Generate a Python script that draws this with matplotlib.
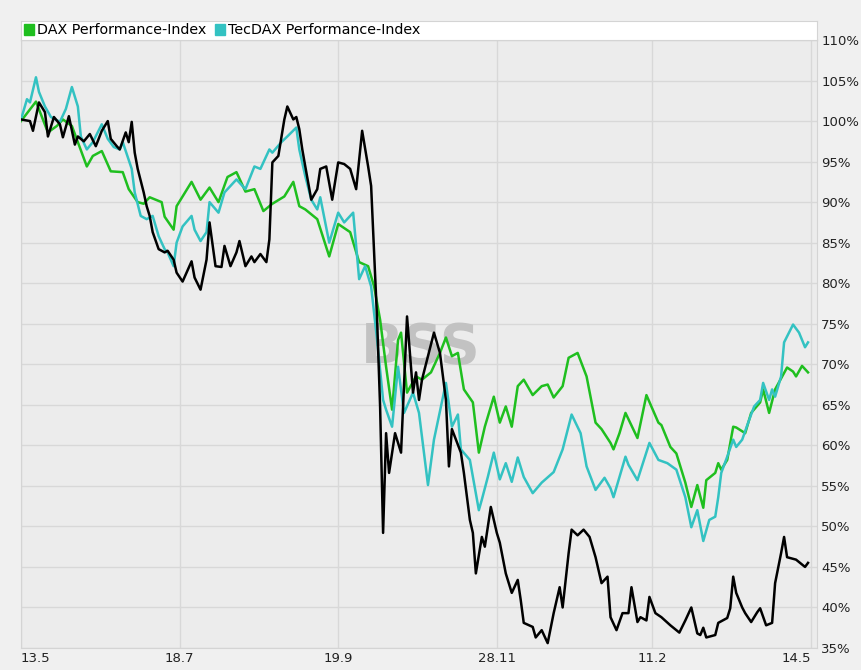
import numpy as np
import matplotlib.pyplot as plt
from matplotlib.patches import Patch

# trading days since 13.5 and index level in % (start = 100%)
dax_days = [0, 5, 9, 12, 14, 17, 22, 24, 27, 30, 34, 36, 39, 41, 43, 47, 48, 51, 52, 57,
            60, 63, 66, 69, 72, 75, 78, 81, 84, 88, 91, 93, 95, 99, 103, 106, 110, 113, 116, 118,
            120, 122, 124, 126, 127, 129, 132, 134, 137, 140, 142, 144, 146, 148, 151, 153, 155, 158, 160, 162,
            164, 166, 168, 171, 174, 176, 178, 181, 183, 186, 189, 192, 194, 197, 198, 200, 202, 206, 209, 213,
            214, 217, 219, 222, 224, 226, 228, 229, 232, 233, 234, 236, 238, 239, 242, 244, 247, 248, 250, 252,
            256, 258, 259, 261, 263]
dax_vals = [100, 102.4, 98.6, 99.4, 100.2, 99.4, 94.4, 95.7, 96.3, 93.8, 93.7, 91.6, 90, 89.8, 90.6, 90, 88.2, 86.6, 89.5, 92.5,
            90.3, 91.8, 90, 93.1, 93.7, 91.3, 91.6, 88.9, 89.8, 90.7, 92.5, 89.5, 89.1, 87.9, 83.3, 87.3, 86.3, 82.6, 82.1, 79.6,
            75.5, 69.7, 64.4, 73, 73.9, 66.5, 68.5, 68.1, 69, 71.4, 73.3, 71, 71.4, 66.9, 65.3, 59.1, 62.3, 66, 62.8, 64.8,
            62.3, 67.3, 68.1, 66.2, 67.3, 67.5, 65.9, 67.3, 70.8, 71.4, 68.5, 62.8, 62, 60.3, 59.5, 61.5, 64, 60.9, 66.2, 62.8,
            62.5, 59.8, 59, 55.4, 52.4, 55.1, 52.3, 55.7, 56.6, 57.8, 57, 58.2, 62.3, 62.2, 61.5, 64, 65.3, 66.9, 64, 66.9,
            69.6, 69.1, 68.5, 69.8, 69]

tec_days = [0, 2, 3, 5, 6, 8, 10, 13, 15, 17, 19, 20, 22, 24, 27, 29, 31, 33, 34, 37,
            38, 40, 42, 44, 46, 48, 49, 51, 52, 54, 57, 58, 60, 62, 63, 66, 68, 72, 75, 78,
            80, 83, 84, 87, 89, 92, 93, 95, 97, 99, 100, 103, 106, 108, 111, 113, 115, 117, 119, 121,
            122, 124, 126, 128, 131, 133, 136, 138, 142, 144, 146, 147, 150, 153, 154, 156, 158, 160, 162, 164,
            166, 168, 171, 174, 178, 181, 184, 187, 189, 192, 195, 197, 198, 202, 203, 206, 210, 213, 216, 219,
            222, 224, 226, 228, 230, 232, 233, 234, 236, 238, 239, 241, 243, 245, 247, 248, 250, 251, 252, 254,
            255, 258, 260, 262, 263]
tec_vals = [100.2, 102.7, 102.3, 105.4, 103.6, 101.8, 100.5, 99.9, 101.5, 104.2, 101.8, 98.1, 96.5, 97.4, 99.6, 97.8, 96.8, 96.5, 97.4, 94.1,
            91.2, 88.3, 87.9, 88.3, 85.8, 84.2, 83.8, 82.1, 85, 87, 88.3, 86.6, 85.2, 86.3, 90, 88.7, 91.2, 92.8, 91.6, 94.4,
            94.1, 96.5, 96.1, 97.4, 98.1, 99.2, 96.5, 93.2, 90.3, 89.1, 90.6, 85, 88.7, 87.5, 88.7, 80.5, 82.1, 79.6, 73, 65.6,
            64.4, 62.3, 69.7, 64, 66.5, 64, 55.1, 60.7, 67.7, 62.3, 63.8, 59.5, 58.2, 52, 53.3, 56.1, 59.1, 55.8, 57.8, 55.5,
            58.5, 56.1, 54.1, 55.4, 56.7, 59.5, 63.8, 61.5, 57.4, 54.5, 56, 54.7, 53.6, 58.6, 57.6, 55.7, 60.3, 58.2, 57.8, 57,
            53.6, 49.9, 52, 48.2, 50.8, 51.2, 53.6, 56.6, 58.6, 60.7, 59.8, 60.7, 62.8, 64.8, 65.6, 67.7, 65.6, 66.9, 66, 68.5,
            72.7, 74.9, 73.9, 72.1, 72.7]

stock_days = [0, 3, 4, 6, 8, 9, 11, 13, 14, 16, 18, 19, 21, 23, 25, 27, 29, 30, 32, 33,
              35, 36, 37, 38, 39, 41, 42, 43, 44, 46, 48, 49, 51, 52, 54, 57, 58, 60, 62, 63,
              65, 67, 68, 70, 72, 73, 75, 77, 78, 80, 82, 83, 84, 86, 88, 89, 91, 92, 93, 94,
              95, 97, 99, 100, 102, 104, 106, 108, 110, 112, 114, 116, 117, 118, 119, 120, 121, 122, 123, 125,
              127, 129, 131, 132, 133, 134, 136, 138, 140, 142, 143, 144, 147, 148, 150, 151, 152, 154, 155, 157,
              159, 160, 162, 163, 164, 166, 167, 168, 171, 172, 174, 176, 178, 180, 181, 183, 184, 186, 188, 190,
              192, 194, 196, 197, 199, 201, 203, 204, 206, 207, 209, 210, 212, 214, 217, 220, 222, 224, 226, 227,
              228, 229, 232, 233, 236, 237, 238, 239, 241, 242, 244, 246, 247, 249, 251, 252, 254, 255, 256, 257,
              259, 262, 263]
stock_vals = [100.2, 100, 98.8, 102.3, 101.1, 98.1, 100.5, 99.6, 98, 100.6, 97.1, 98.1, 97.5, 98.4, 96.9, 98.8, 100, 97.8, 96.9, 96.5,
              98.6, 97.4, 99.9, 96.1, 94.1, 91.2, 89.5, 88.3, 86.3, 84.2, 83.8, 84, 82.9, 81.3, 80.2, 82.7, 80.7, 79.2, 82.9, 87.5,
              82.1, 82, 84.6, 82.1, 83.8, 85.2, 82.1, 83.3, 82.6, 83.6, 82.6, 85.4, 94.9, 95.7, 100.2, 101.8, 100.2, 100.5, 99, 96.5,
              94.4, 90.3, 91.6, 94.1, 94.4, 90.3, 94.9, 94.7, 94.1, 91.6, 98.8, 94.4, 92, 83.8, 75.5, 64.8, 49.2, 61.5, 56.6, 61.5,
              59.1, 75.9, 66.5, 69, 65.6, 68.1, 71, 73.9, 71.4, 65.6, 57.4, 62, 59.1, 56.6, 50.8, 49.2, 44.2, 48.7, 47.5, 52.4,
              49.2, 48, 44.2, 43, 41.8, 43.4, 40.9, 38.1, 37.6, 36.3, 37.2, 35.6, 39.3, 42.5, 40, 46.7, 49.6, 48.9, 49.6, 48.7,
              46.2, 43, 43.8, 38.8, 37.2, 39.3, 39.3, 42.5, 38.2, 38.8, 38.4, 41.3, 39.3, 38.8, 37.8, 36.9, 38.4, 40, 36.8, 36.6,
              37.5, 36.3, 36.6, 38.1, 38.7, 39.9, 43.8, 41.8, 40, 39.3, 38.2, 39.4, 39.9, 37.8, 38.1, 43, 46.7, 48.7, 46.2, 46.1,
              45.9, 45, 45.5]

tick_days = [0, 53, 106, 159, 211, 264]
tick_labels = ['13.5', '18.7', '19.9', '28.11', '11.2', '14.5']
y_ticks = np.arange(35, 111, 5)

plt.rcParams['font.family'] = ['DejaVu Sans']

fig = plt.figure(figsize=(8.61, 6.70), dpi=100, facecolor='#f0f0f0')
ax = fig.add_axes([21/861, 1 - 648/670, 796/861, 608/670])
ax.set_facecolor('#ececec')

green = '#1fbf1f'
cyan = '#33c2c2'

ax.text(0.5025, 0.493, 'BSS', transform=ax.transAxes, ha='center', va='center',
        fontsize=40, fontweight='bold', color='#c2c2c2', zorder=1)

ax.plot(dax_days, dax_vals, color=green, lw=1.8, zorder=3)
ax.plot(tec_days, tec_vals, color=cyan, lw=1.8, zorder=4)
ax.plot(stock_days, stock_vals, color='black', lw=1.8, zorder=5)

ax.set_xlim(0, 266)
ax.set_ylim(35, 110)
ax.set_xticks(tick_days)
ax.set_xticklabels(tick_labels)
for i, lab in enumerate(ax.get_xticklabels()):
    if i == 0:
        lab.set_ha('left')
    elif i == len(tick_labels) - 1:
        lab.set_ha('right')
ax.set_yticks(y_ticks)
ax.set_yticklabels([f'{v}%' for v in y_ticks])
ax.yaxis.tick_right()
ax.tick_params(axis='both', length=0, labelsize=9.5, colors='#222222')
ax.tick_params(axis='x', pad=3)
ax.tick_params(axis='y', pad=3)
ax.grid(True, color='#d8d8d8', lw=1)
ax.set_axisbelow(True)
for s in ax.spines.values():
    s.set_color('#d4d4d4')

# legend strip above the plot
lax = fig.add_axes([21/861, 1 - 40/670, 796/861, 19/670])
lax.set_facecolor('white')
lax.set_xticks([])
lax.set_yticks([])
for s in lax.spines.values():
    s.set_color('#d4d4d4')
handles = [Patch(color=green, label='DAX Performance-Index'),
           Patch(color=cyan, label='TecDAX Performance-Index')]
lax.legend(handles=handles, loc='center left', ncol=2, frameon=False, fontsize=10.3,
           handlelength=0.7, handleheight=0.7, handletextpad=0.25, columnspacing=0.55,
           borderaxespad=0.1, borderpad=0.1)

fig.savefig('out.png', dpi=100, facecolor=fig.get_facecolor())
